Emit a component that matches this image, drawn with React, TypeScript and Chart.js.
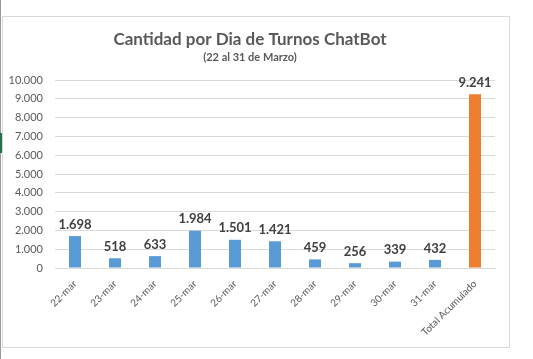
import React, { useEffect, useRef } from "react";
import { Chart, registerables } from "chart.js";

Chart.register(...registerables);

const categories = ["22-mar", "23-mar", "24-mar", "25-mar", "26-mar", "27-mar", "28-mar", "29-mar", "30-mar", "31-mar", "Total Acumulado"];
const values = [1698, 518, 633, 1984, 1501, 1421, 459, 256, 339, 432, 9241];
const barColors = ["#5b9bd5", "#5b9bd5", "#5b9bd5", "#5b9bd5", "#5b9bd5", "#5b9bd5", "#5b9bd5", "#5b9bd5", "#5b9bd5", "#5b9bd5", "#ed7d31"];
const titleText = "Cantidad por Dia de Turnos ChatBot";
const subtitleText = "(22 al 31 de Marzo)";

const FONT = "Lato, 'Open Sans', sans-serif";
const fmt = (v: number) => v.toLocaleString("de-DE");

const framePlugin = {
  id: "frame",
  beforeDraw(chart: any) {
    const ctx = chart.ctx;
    ctx.save();
    ctx.fillStyle = "#ffffff";
    ctx.fillRect(0, 0, chart.width, chart.height);
    ctx.strokeStyle = "#d9d9d9";
    ctx.lineWidth = 1;
    ctx.strokeRect(2.5, 16.5, 507, 331);
    ctx.strokeStyle = "#9a9a9a";
    ctx.beginPath();
    ctx.moveTo(0.5, 0);
    ctx.lineTo(0.5, chart.height);
    ctx.stroke();
    ctx.fillStyle = "#217346";
    ctx.fillRect(0, 133, 2, 20);
    ctx.restore();
  },
  afterDraw(chart: any) {
    const ctx = chart.ctx;
    ctx.save();
    ctx.textAlign = "center";
    ctx.textBaseline = "middle";
    ctx.fillStyle = "#595959";
    ctx.font = `bold 17px ${FONT}`;
    ctx.fillText(titleText, 250, 40);
    ctx.font = `bold 11px ${FONT}`;
    ctx.fillText(subtitleText, 250, 57);
    const meta = chart.getDatasetMeta(0);
    ctx.fillStyle = "#404040";
    ctx.font = `bold 13px ${FONT}`;
    ctx.textBaseline = "bottom";
    meta.data.forEach((bar: any, i: number) => {
      ctx.fillText(fmt(values[i]), bar.x, bar.y - 5);
    });
    ctx.restore();
  },
};

export default function App() {
  const ref = useRef<HTMLCanvasElement>(null);
  useEffect(() => {
    document.body.style.margin = "0";
    const chart = new Chart(ref.current!, {
      type: "bar",
      data: {
        labels: categories,
        datasets: [
          {
            data: values,
            backgroundColor: barColors,
            categoryPercentage: 1,
            barPercentage: 0.3,
          },
        ],
      },
      options: {
        animation: false,
        responsive: false,
        layout: { padding: { left: 0, right: 38, top: 80, bottom: 0 } },
        plugins: { legend: { display: false }, tooltip: { enabled: false } },
        scales: {
          x: {
            grid: { display: false },
            border: { color: "#d9d9d9" },
            ticks: {
              color: "#595959",
              font: { family: FONT, size: 10 },
              minRotation: 45,
              maxRotation: 45,
              autoSkip: false,
              padding: 2,
            },
            afterFit(scale: any) {
              scale.height = 91;
            },
          },
          y: {
            min: 0,
            max: 10000,
            ticks: {
              stepSize: 1000,
              color: "#595959",
              font: { family: FONT, size: 11 },
              padding: 12,
              callback: (v: any) => fmt(Number(v)),
            },
            grid: { color: "#d9d9d9", drawTicks: false },
            border: { display: false },
            afterFit(scale: any) {
              scale.width = 55;
            },
          },
        },
      },
      plugins: [framePlugin],
    });
    return () => chart.destroy();
  }, []);
  return (
    <div style={{ width: 533, height: 359, background: "#fff" }}>
      <canvas ref={ref} width={533} height={359} style={{ display: "block" }} />
    </div>
  );
}
